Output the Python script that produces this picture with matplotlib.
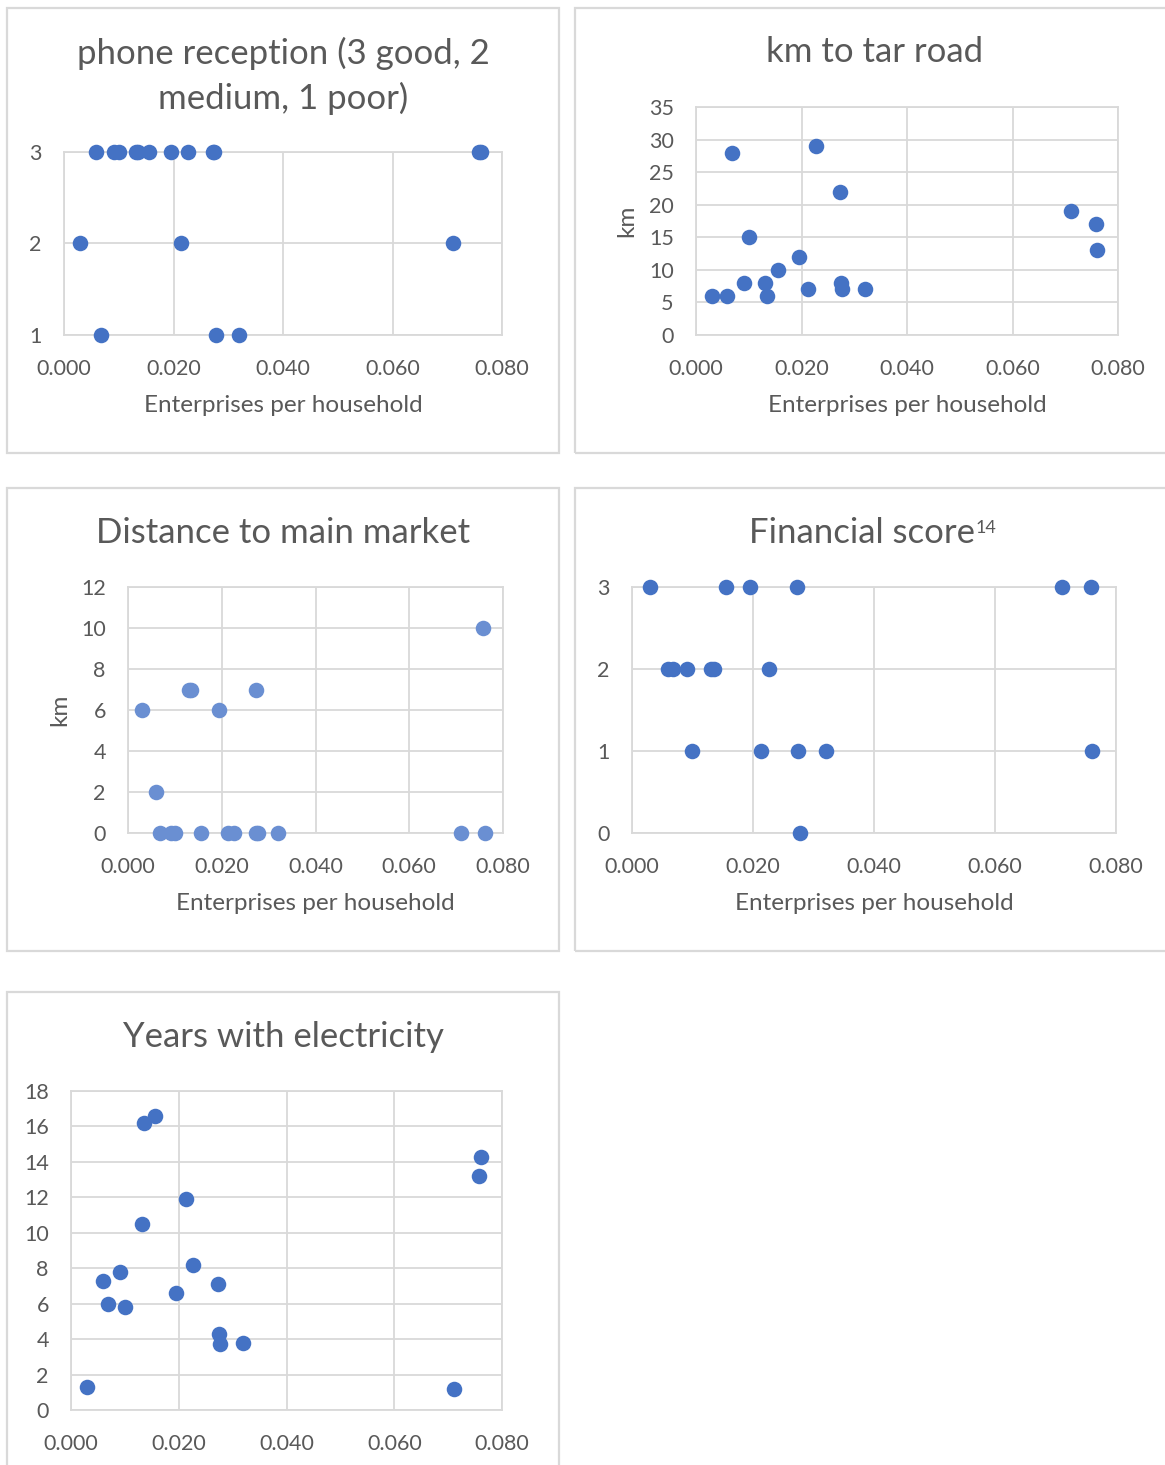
import matplotlib
matplotlib.use("Agg")
import matplotlib.pyplot as plt
from matplotlib.patches import Rectangle

plt.rcParams['font.family'] = ['Lato', 'DejaVu Sans']

# enterprises per household, one per village
enterprises = [0.0030, 0.0059, 0.0068, 0.0091, 0.0100, 0.0131, 0.0135, 0.0155, 0.0195,
               0.0213, 0.0227, 0.0273, 0.0274, 0.0277, 0.0320, 0.0711, 0.0758, 0.0761]
phone = [2, 3, 1, 3, 3, 3, 3, 3, 3, 2, 3, 3, 3, 1, 1, 2, 3, 3]
tar_road = [6, 6, 28, 8, 15, 8, 6, 10, 12, 7, 29, 22, 8, 7, 7, 19, 17, 13]
market = [6, 2, 0, 0, 0, 7, 7, 0, 6, 0, 0, 7, 0, 0, 0, 0, 10, 0]
financial = [3, 2, 2, 2, 1, 2, 2, 3, 3, 1, 2, 3, 1, 0, 1, 3, 3, 1]
electricity = [1.3, 7.3, 6.0, 7.8, 5.8, 10.5, 16.2, 16.6, 6.6, 11.9, 8.2, 7.1, 4.3, 3.7,
               3.8, 1.2, 13.2, 14.3]

x_ticks = [0.0, 0.02, 0.04, 0.06, 0.08]
x_labels = ["0.000", "0.020", "0.040", "0.060", "0.080"]

W, H = 1165, 1465
fig = plt.figure(figsize=(W / 100, H / 100), dpi=100)
fig.patch.set_facecolor("white")

TEXT = "#595959"
GRID = "#D9D9D9"
TITLE_SIZE = 25


def px(x0, y0, x1, y1):
    # pixel box (top-left origin) -> figure fraction rect
    return [x0 / W, 1 - y1 / H, (x1 - x0) / W, (y1 - y0) / H]


def panel_box(x0, y0, x1, y1):
    fig.patches.append(Rectangle((x0 / W, 1 - y1 / H), (x1 - x0) / W, (y1 - y0) / H,
                                 transform=fig.transFigure, fill=False,
                                 edgecolor=GRID, linewidth=1.6))


def make_axes(rect, y, ylim, yticks, color="#4472C4", ylabel=None, xlabel=True):
    ax = fig.add_axes(px(*rect))
    ax.scatter(enterprises, y, s=125, color=color, zorder=3, clip_on=False, linewidths=0)
    ax.set_xlim(0, 0.08)
    ax.set_ylim(*ylim)
    ax.set_xticks(x_ticks)
    ax.set_xticklabels(x_labels)
    ax.set_yticks(yticks)
    ax.grid(True, color=GRID, linewidth=1.3)
    ax.set_axisbelow(True)
    for s in ax.spines.values():
        s.set_color(GRID)
        s.set_linewidth(1.3)
    ax.tick_params(length=0, labelsize=15.5, colors=TEXT)
    ax.tick_params(axis="x", pad=17)
    ax.tick_params(axis="y", pad=16)
    if xlabel:
        ax.set_xlabel("Enterprises per household", fontsize=17.5, color=TEXT, labelpad=12)
    if ylabel:
        ax.set_ylabel(ylabel, fontsize=17.5, color=TEXT, labelpad=8)
    return ax


# panel frames
panel_box(7, 8, 559, 453)
panel_box(575, 8, 1170, 453)
panel_box(7, 488, 559, 951)
panel_box(575, 488, 1170, 951)
panel_box(7, 992, 559, 1475)

# phone reception
make_axes((64, 152, 502, 335), phone, (1, 3), [1, 2, 3])
fig.text(283 / W, 1 - 76 / H, "phone reception (3 good, 2\nmedium, 1 poor)", ha="center",
         va="center", fontsize=TITLE_SIZE, color=TEXT, linespacing=1.45)

# km to tar road
make_axes((696, 107, 1118, 335), tar_road, (0, 35), list(range(0, 36, 5)), ylabel="km")
fig.text(875 / W, 1 - 52 / H, "km to tar road", ha="center", va="center",
         fontsize=TITLE_SIZE, color=TEXT)

# distance to main market
make_axes((128, 587, 503, 833), market, (0, 12), list(range(0, 13, 2)),
          color="#6A8FD2", ylabel="km")
fig.text(283 / W, 1 - 533 / H, "Distance to main market", ha="center", va="center",
         fontsize=TITLE_SIZE, color=TEXT)

# financial score
make_axes((632, 587, 1116, 833), financial, (0, 3), [0, 1, 2, 3])
fig.text(975 / W, 1 - 533 / H, "Financial score", ha="right", va="center",
         fontsize=TITLE_SIZE, color=TEXT)
fig.text(976 / W, 1 - 528 / H, "14", ha="left", va="center", fontsize=13, color=TEXT)

# years with electricity
make_axes((71, 1091, 502, 1410), electricity, (0, 18), list(range(0, 19, 2)), xlabel=False)
fig.text(283 / W, 1 - 1037 / H, "Years with electricity", ha="center", va="center",
         fontsize=TITLE_SIZE, color=TEXT)

fig.savefig("out.png", dpi=100, facecolor="white")
